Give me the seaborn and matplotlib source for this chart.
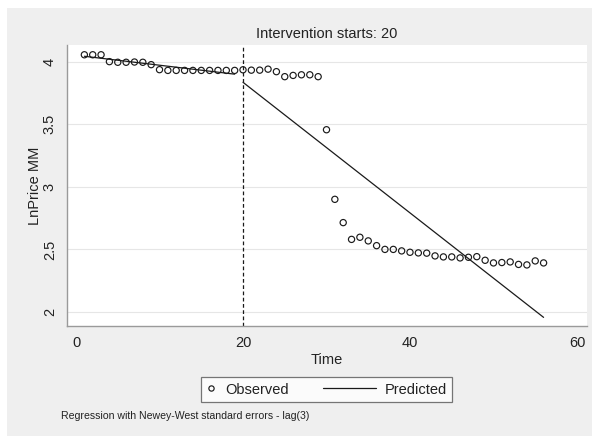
import numpy as np
import pandas as pd
import matplotlib
matplotlib.use("Agg")
import matplotlib.pyplot as plt
from matplotlib.lines import Line2D
from matplotlib.patches import Rectangle
import seaborn as sns

# ---- data ----
time = list(range(1, 57))
ln_price = [4.055, 4.055, 4.055, 4.000, 3.995, 3.995, 3.997, 3.995, 3.976, 3.936,
            3.930, 3.930, 3.930, 3.930, 3.930, 3.930, 3.930, 3.930, 3.930, 3.935,
            3.932, 3.932, 3.940, 3.920, 3.880, 3.890, 3.895, 3.895, 3.880, 3.456,
            2.900, 2.714, 2.580, 2.597, 2.568, 2.530, 2.500, 2.500, 2.488, 2.477,
            2.472, 2.470, 2.448, 2.440, 2.440, 2.432, 2.437, 2.442, 2.413, 2.392,
            2.395, 2.400, 2.380, 2.376, 2.408, 2.392]
pred_pre_time = [1, 19]
pred_pre_value = [4.043, 3.900]
pred_post_time = [20, 56]
pred_post_value = [3.835, 1.957]
intervention = 20
x_ticks = [0, 20, 40, 60]
y_ticks = [2, 2.5, 3, 3.5, 4]
y_tick_labels = ["2", "2.5", "3", "3.5", "4"]

obs = pd.DataFrame({"Time": time, "LnPrice": ln_price})
pre = pd.DataFrame({"Time": pred_pre_time, "LnPrice": pred_pre_value})
post = pd.DataFrame({"Time": pred_post_time, "LnPrice": pred_post_value})

sns.set_style("white")
plt.rcParams["font.family"] = ["Liberation Sans", "DejaVu Sans"]

W, H = 592, 436
fig = plt.figure(figsize=(W / 100, H / 100), dpi=100)
fig.patch.set_facecolor("white")
fig.add_artist(Rectangle((7 / W, 0), 1, (H - 8) / H, transform=fig.transFigure,
                         facecolor="#efefef", edgecolor="none", zorder=0))

ax = fig.add_axes([67 / W, (H - 326) / H, 520 / W, 281 / H])
ax.set_facecolor("white")

ink = "#1a1a1a"
sns.scatterplot(data=obs, x="Time", y="LnPrice", ax=ax, marker="o", s=20,
                facecolors="none", edgecolor=ink, linewidth=0.85, zorder=3)
sns.lineplot(data=pre, x="Time", y="LnPrice", ax=ax, color=ink, lw=0.9, zorder=2)
sns.lineplot(data=post, x="Time", y="LnPrice", ax=ax, color=ink, lw=0.9, zorder=2)
ax.axvline(intervention, color=ink, lw=0.9, ls=(0, (3, 2)), zorder=2)

ax.set_xlim(-1.08, 61.2)
ax.set_ylim(1.888, 4.133)
ax.set_xticks(x_ticks)
ax.set_yticks(y_ticks)
ax.set_yticklabels(y_tick_labels, rotation=90, va="center")
ax.yaxis.grid(True, color="#e6e6e6", lw=0.8)
ax.xaxis.grid(False)
for s in ["top", "right"]:
    ax.spines[s].set_visible(False)
for s in ["left", "bottom"]:
    ax.spines[s].set_color("#9a9a9a")
    ax.spines[s].set_linewidth(1.0)
ax.tick_params(axis="both", which="major", direction="out", length=4.8, width=0.9,
               color="#9a9a9a", labelsize=10.5, labelcolor="#222222")
ax.tick_params(axis="x", pad=2.5)
ax.tick_params(axis="y", pad=2.5)
ax.set_xlabel("Time", fontsize=10.5, color="#222222", labelpad=2)
ax.set_ylabel("LnPrice MM", fontsize=10.5, color="#222222")
ax.yaxis.set_label_coords(-0.0485, 0.5)
ax.set_title("Intervention starts: 20", fontsize=10.5, color="#222222", pad=5)


class LongLineHandler:
    def legend_artist(self, legend, orig_handle, fontsize, handlebox):
        x0, y0 = handlebox.xdescent, handlebox.ydescent
        w, h = handlebox.width, handlebox.height
        L = 3.6 * fontsize
        ln = Line2D([x0 + w - L, x0 + w], [y0 + h / 2, y0 + h / 2], color=ink, lw=0.9,
                    transform=handlebox.get_transform())
        handlebox.add_artist(ln)
        return ln


h_obs = Line2D([], [], ls="none", marker="o", markersize=3.8, markerfacecolor="none",
               markeredgecolor=ink, markeredgewidth=0.85)
h_pred = Line2D([], [], color=ink, lw=0.9)
leg = fig.legend([h_obs, h_pred], ["Observed", "Predicted"], ncol=2,
                 loc="center", bbox_to_anchor=(326.5 / W, 1 - 389.5 / H),
                 frameon=True, fancybox=False, fontsize=10.5,
                 handlelength=0.7, handletextpad=0.6, columnspacing=5.25,
                 borderpad=0.35, borderaxespad=0,
                 handler_map={h_pred: LongLineHandler()})
leg.get_frame().set_edgecolor("#555555")
leg.get_frame().set_linewidth(0.9)
leg.get_frame().set_facecolor("white")
for t in leg.get_texts():
    t.set_color("#222222")

fig.text(61 / W, 1 - 416 / H, "Regression with Newey-West standard errors - lag(3)",
         fontsize=7.6, color="#222222", ha="left", va="center")

fig.savefig("out.png", dpi=100)
